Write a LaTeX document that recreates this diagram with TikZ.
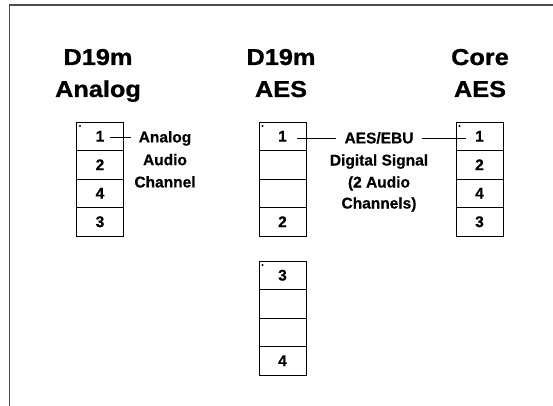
\documentclass[tikz,border=0pt]{standalone}
\usepackage{fontspec}
\setmainfont{Liberation Sans}[BoldFeatures={FakeBold=0.6}]
\newfontfamily\headfont{Liberation Sans}[FakeStretch=1.1, BoldFeatures={FakeBold=1}]
\usetikzlibrary{positioning}

\tikzset{
  pincell/.style={draw, line width=0.9pt, minimum width=47pt, minimum height=28.5pt,
    outer sep=0pt, inner sep=0pt, font=\bfseries\fontsize{15.5}{18}\selectfont},
  heading/.style={anchor=base, inner sep=0pt, font=\headfont\bfseries\fontsize{23}{28}\selectfont},
  sigtext/.style={anchor=base, inner xsep=8pt, text height=10.7pt, text depth=0pt,
    font=\bfseries\fontsize{15.5}{18}\selectfont},
  wire/.style={line width=0.9pt}
}

\begin{document}
\begin{tikzpicture}[x=1pt, y=-1pt]
  \useasboundingbox (0,0) rectangle (553,406);
  % frame, open at right and bottom
  \draw[line width=1.4pt, black!70] (9.5,406) -- (9.5,5) -- (553,5);

  % headings
  \node[heading] (ta1) at (98,65) {D19m};
  \node[heading] (ta2) at (98,97) {Analog};
  \node[heading] (tm1) at (281,65) {D19m};
  \node[heading] (tm2) at (281,97) {AES};
  \node[heading] (tc1) at (480,65) {Core};
  \node[heading] (tc2) at (480,97) {AES};

  % D19m analog pins
  \node[pincell] (a1) at (100,136.25) {1};
  \node[pincell, below=0pt of a1] (a2) {2};
  \node[pincell, below=0pt of a2] (a3) {4};
  \node[pincell, below=0pt of a3] (a4) {3};

  % D19m AES pins
  \node[pincell] (m1) at (282.5,136.25) {1};
  \node[pincell, below=0pt of m1] (m2) {};
  \node[pincell, below=0pt of m2] (m3) {};
  \node[pincell, below=0pt of m3] (m4) {2};
  \node[pincell] (n1) at (282.5,275.25) {3};
  \node[pincell, below=0pt of n1] (n2) {};
  \node[pincell, below=0pt of n2] (n3) {};
  \node[pincell, below=0pt of n3] (n4) {4};

  % Core AES pins
  \node[pincell] (c1) at (479.5,136.25) {1};
  \node[pincell, below=0pt of c1] (c2) {2};
  \node[pincell, below=0pt of c2] (c3) {4};
  \node[pincell, below=0pt of c3] (c4) {3};

  % pin one marks
  \foreach \p in {a1,m1,n1,c1} \fill ([xshift=3.5pt,yshift=-4pt]\p.north west) circle (1.1pt);

  % signal notes
  \node[sigtext] (an1) at (165,142.4) {Analog};
  \node[sigtext] (an2) at (165,165.2) {Audio};
  \node[sigtext] (an3) at (165,187.4) {Channel};
  \node[sigtext] (ae1) at (379,143.4) {AES/EBU};
  \node[sigtext] (ae2) at (379,165.5) {Digital Signal};
  \node[sigtext] (ae3) at (379,187.5) {(2 Audio};
  \node[sigtext] (ae4) at (379,208.5) {Channels)};

  \coordinate (a1p) at ([xshift=-21pt]an1.west);
  \coordinate (m1p) at ([xshift=-39pt]ae1.west);
  \coordinate (c1p) at ([xshift=44pt]ae1.east);
  \draw[wire] (a1p) -- (an1.west);
  \draw[wire] (m1p) -- (ae1.west);
  \draw[wire] (ae1.east) -- (c1p);
\end{tikzpicture}
\end{document}
